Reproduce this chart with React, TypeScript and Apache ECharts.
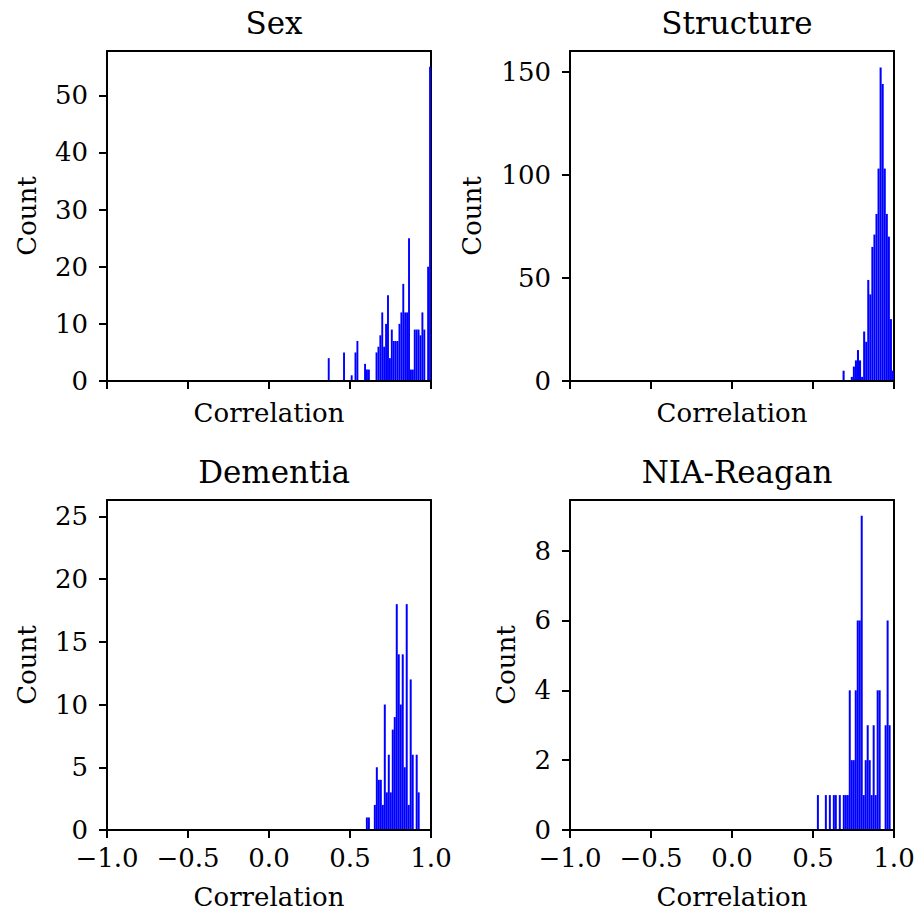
import React, { useEffect, useRef } from "react";
import * as echarts from "echarts";

// ---- data ----
const xTickValues = [-1, -0.5, 0, 0.5, 1];

const sexTitle = "Sex";
const sexBinStart = 0.3628;
const sexBinWidth = 0.0118;
const sexCounts = [
  4, 0, 0, 0, 0, 0, 0, 0, 5, 0, 0, 0, 1, 0, 5, 7, 0, 0, 0, 3, 2, 2, 0, 0, 0,
  5, 6, 8, 12, 6, 10, 15, 4, 9, 7, 7, 7, 10, 12, 17, 12, 12, 25, 2, 2, 9, 9, 9, 8, 12, 9, 0, 20, 55,
];
const sexYTicks = [0, 10, 20, 30, 40, 50];
const sexYMax = 57.75;

const structureTitle = "Structure";
const structureBinStart = 0.6825;
const structureBinWidth = 0.0127;
const structureCounts = [
  5, 0, 0, 0, 2, 7, 10, 15, 10, 2, 24, 19, 49, 42, 65, 71, 81, 103, 152, 144, 103, 81, 70, 30, 5,
];
const structureYTicks = [0, 50, 100, 150];
const structureYMax = 160;

const dementiaTitle = "Dementia";
const dementiaBinStart = 0.598;
const dementiaBinWidth = 0.0123;
const dementiaCounts = [
  1, 1, 0, 0, 2, 5, 4, 4, 2, 10, 3, 6, 3, 8, 9, 18, 14, 10, 14, 5, 18, 2, 12, 6, 0, 6, 3,
];
const dementiaYTicks = [0, 5, 10, 15, 20, 25];
const dementiaYMax = 26.3;

const niaTitle = "NIA-Reagan";
const niaBinStart = 0.524;
const niaBinWidth = 0.0123;
const niaCounts = [
  1, 0, 0, 0, 1, 0, 1, 0, 1, 1, 0, 1, 0, 1, 1, 1, 4, 2, 2, 4, 6, 6, 9, 1, 2, 3, 2, 1, 3, 1, 4, 4, 0, 0, 3, 6, 3,
];
const niaYTicks = [0, 2, 4, 6, 8];
const niaYMax = 9.45;

const xAxisName = "Correlation";
const yAxisName = "Count";

// ---- layout ----
const FONT = "DejaVu Serif";
const LABEL_SIZE = 26;
const TITLE_SIZE = 31;
const panels = [
  { title: sexTitle, start: sexBinStart, width: sexBinWidth, counts: sexCounts, ticks: sexYTicks, ymax: sexYMax,
    left: 107, top: 51, showX: false, yGap: 67 },
  { title: structureTitle, start: structureBinStart, width: structureBinWidth, counts: structureCounts, ticks: structureYTicks, ymax: structureYMax,
    left: 570, top: 51, showX: false, yGap: 85 },
  { title: dementiaTitle, start: dementiaBinStart, width: dementiaBinWidth, counts: dementiaCounts, ticks: dementiaYTicks, ymax: dementiaYMax,
    left: 107, top: 500, showX: true, yGap: 67 },
  { title: niaTitle, start: niaBinStart, width: niaBinWidth, counts: niaCounts, ticks: niaYTicks, ymax: niaYMax,
    left: 570, top: 500, showX: true, yGap: 51 },
];
const PW = 324;
const PH = 330;

function fmtX(v: number) {
  return v.toFixed(1).replace("-", "\u2212");
}

export default function App() {
  const ref = useRef<HTMLDivElement>(null);
  useEffect(() => {
    if (!ref.current) return;
    const chart = echarts.init(ref.current, undefined, { renderer: "svg" });
    const lineStyle = { color: "#000", width: 2 };
    const grid: any[] = [];
    const xAxis: any[] = [];
    const yAxis: any[] = [];
    const series: any[] = [];
    const title: any[] = [];
    panels.forEach((p, i) => {
      grid.push({ left: p.left, top: p.top, width: PW, height: PH, containLabel: false });
      title.push({
        text: p.title,
        left: p.left + PW / 2,
        top: p.top - 49,
        textAlign: "center",
        textStyle: { fontFamily: FONT, fontSize: TITLE_SIZE, fontWeight: "normal", color: "#000" },
      });
      xAxis.push({
        type: "value", gridIndex: i, min: -1, max: 1, interval: 0.5, z: 10,
        position: "bottom",
        axisLine: { show: true, onZero: false, lineStyle },
        axisTick: { show: true, length: 8, lineStyle, customValues: xTickValues },
        axisLabel: {
          show: p.showX, margin: 15, fontFamily: FONT, fontSize: LABEL_SIZE, color: "#000",
          customValues: xTickValues, formatter: (v: number) => fmtX(v),
        },
        splitLine: { show: false },
        name: xAxisName, nameLocation: "middle", nameGap: p.showX ? 54 : 19,
        nameTextStyle: { fontFamily: FONT, fontSize: LABEL_SIZE, color: "#000" },
      });
      xAxis.push({
        type: "value", gridIndex: i, min: -1, max: 1, position: "top", z: 10,
        axisLine: { show: true, onZero: false, lineStyle },
        axisTick: { show: false }, axisLabel: { show: false }, splitLine: { show: false },
      });
      yAxis.push({
        type: "value", gridIndex: i, min: 0, max: p.ymax, z: 10,
        position: "left",
        axisLine: { show: true, onZero: false, lineStyle },
        axisTick: { show: true, length: 8, lineStyle, customValues: p.ticks },
        axisLabel: {
          show: true, margin: 19, fontFamily: FONT, fontSize: LABEL_SIZE, color: "#000",
          customValues: p.ticks,
        },
        splitLine: { show: false },
        name: yAxisName, nameLocation: "middle", nameGap: p.yGap,
        nameTextStyle: { fontFamily: FONT, fontSize: LABEL_SIZE, color: "#000" },
      });
      yAxis.push({
        type: "value", gridIndex: i, min: 0, max: p.ymax, position: "right", z: 0,
        axisLine: { show: true, onZero: false, lineStyle },
        axisTick: { show: false }, axisLabel: { show: false }, splitLine: { show: false },
      });
      const data = p.counts
        .map((c, k) => [p.start + k * p.width, p.start + (k + 1) * p.width, c])
        .filter((d) => d[2] > 0);
      series.push({
        type: "custom",
        xAxisIndex: i * 2,
        yAxisIndex: i * 2,
        z: 2,
        data,
        encode: { x: [0, 1], y: 2 },
        renderItem: (params: any, api: any) => {
          const a = api.coord([api.value(0), api.value(2)]);
          const b = api.coord([api.value(1), 0]);
          return {
            type: "rect",
            shape: { x: a[0], y: a[1], width: b[0] - a[0], height: b[1] - a[1] },
            style: { fill: "#0000ff" },
          };
        },
      });
    });
    chart.setOption({ animation: false, backgroundColor: "#fff", title, grid, xAxis, yAxis, series });
    return () => chart.dispose();
  }, []);
  return (
    <div
      ref={ref}
      style={{ position: "absolute", left: 0, top: 0, width: 921, height: 915 }}
    />
  );
}
